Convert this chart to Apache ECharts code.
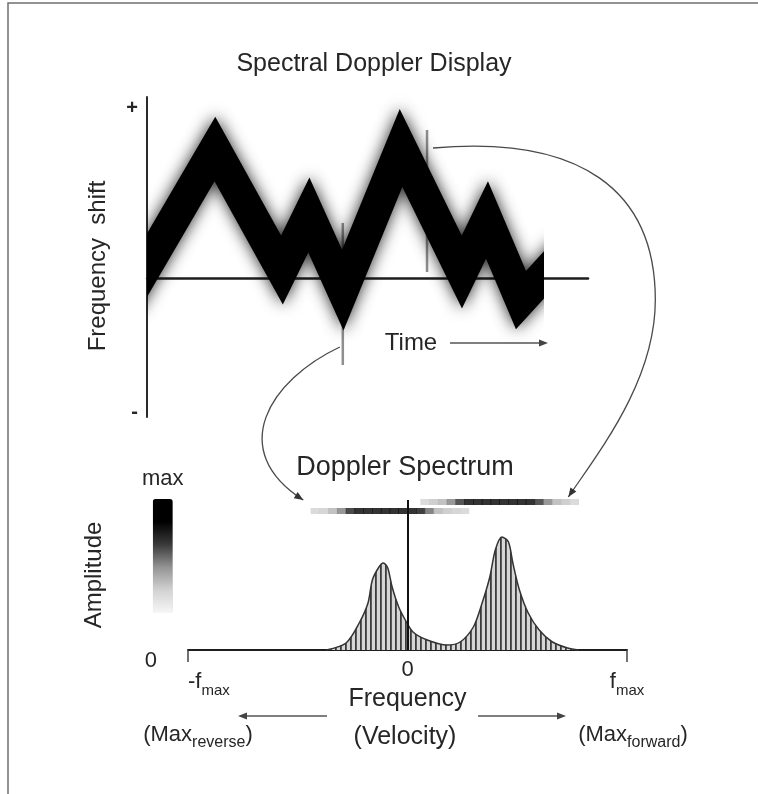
<!DOCTYPE html>
<html>
<head>
<meta charset="utf-8">
<script src="https://cdn.jsdelivr.net/npm/echarts@6/dist/echarts.min.js"></script>
<style>
  html, body { margin: 0; padding: 0; background: #fff; }
  #chart { width: 758px; height: 794px; }
</style>
</head>
<body>
<div id="chart"></div>
<script>
// Spectral Doppler display: the shift band over time (top) and one spectrum slice (bottom)
const FONT = "'Liberation Sans', Arial, Helvetica, sans-serif";
const INK = '#262626';

// Top panel: centre line of the Doppler shift band (time 0..100, shift in arbitrary units)
const waveTime  = [-5, 15.4, 30.6, 36.7, 44.4, 57.6, 71.4, 77.1, 84.8, 95];
const waveShift = [-25, 129, 8, 63, -12, 130, 6, 58, -22, 27];
const waveEnd = 89.8;   // the recording stops here

// Sample gates: time, upper and lower shift
const gateTime   = [44.4, 63.5];
const gateTop    = [55, 148];
const gateBottom = [-87, 6];

// Bottom panel: spectrum amplitude against frequency (-100 = -fmax, 100 = fmax)
const specFreq = [-37, -28, -22, -18, -16, -13, -11, -9, -7, -4, -1, 2.5, 9, 18, 24, 30, 34, 37.5, 40, 43, 46, 48, 51, 55, 60, 66, 73, 78];
const specAmp  = [0, 7, 27, 47, 70, 83, 87, 82, 63, 43, 30, 18, 10, 5, 8, 23, 47, 73, 100, 113, 108, 87, 60, 37, 20, 8, 2, 0];

// Grey-scale strips: spectrum brightness (0..1) at two sample gates
const stripReverseFreq = [-42, -38, -34, -30, -26, -22, -18, -14, -10, -6, -2, 2, 6, 10, 14, 18, 22, 26];
const stripReverseAmp  = [0.2, 0.22, 0.3, 0.45, 0.7, 0.9, 1, 1, 1, 1, 0.95, 0.9, 0.75, 0.5, 0.3, 0.25, 0.22, 0.2];
const stripForwardFreq = [8, 12, 16, 20, 24, 28, 32, 36, 40, 44, 48, 52, 56, 60, 64, 68, 72, 76];
const stripForwardAmp  = [0.2, 0.25, 0.3, 0.45, 0.65, 0.85, 0.95, 1, 1, 1, 1, 0.95, 0.85, 0.65, 0.45, 0.3, 0.25, 0.2];
const stripReverseLevel = 139;
const stripForwardLevel = 148;

// Axis marks
const shiftTicks = [170, -134];
const freqTicks  = [-100, 0, 100];

const zip = (a, b) => a.map((v, i) => [v, b[i]]);

// Band layout: the line clip box grows by half the stroke width, so the band's
// grid is inset by that much and its time axis widened to keep the same scale
const TOP_LEFT = 147, TOP_WIDTH = 441, BAND_W = 32;
const pxPerUnit = TOP_WIDTH / 100;
const inset = BAND_W / 2;
const bandMin = inset / pxPerUnit;
const bandMax = waveEnd - inset / pxPerUnit;

// vertical hatching for the spectrum area
const hatch = document.createElement('canvas');
hatch.width = 5; hatch.height = 8;
{
  const c = hatch.getContext('2d');
  c.fillStyle = '#d6d6d6';
  c.fillRect(0, 0, 5, 8);
  c.fillStyle = '#3c3c3c';
  c.fillRect(0, 0, 1.8, 8);
}

const chart = echarts.init(document.getElementById('chart'), null, { renderer: 'canvas' });

const noAxis = { show: false };
const plainLine = (color, width) => ({ show: true, onZero: true, lineStyle: { color, width } });

chart.setOption({
  animation: false,
  backgroundColor: '#fff',
  textStyle: { fontFamily: FONT },
  title: [
    { text: 'Spectral Doppler Display', left: 374, top: 52, textAlign: 'center', padding: 0,
      textStyle: { fontSize: 25, fontWeight: 'normal', color: INK, fontFamily: FONT } },
    { text: 'Doppler Spectrum', left: 405, top: 454, textAlign: 'center', padding: 0,
      textStyle: { fontSize: 27, fontWeight: 'normal', color: INK, fontFamily: FONT } }
  ],
  grid: [
    { left: TOP_LEFT, top: 97, width: TOP_WIDTH, height: 320, outerBoundsMode: 'none' },
    { left: TOP_LEFT + inset, top: 97, width: (bandMax - bandMin) * pxPerUnit, height: 320, outerBoundsMode: 'none' },
    { left: 188, top: 500, width: 439, height: 150, outerBoundsMode: 'none' }
  ],
  xAxis: [
    { gridIndex: 0, type: 'value', min: 0, max: 100,
      axisLine: plainLine('#1e1e1e', 2.5), axisTick: noAxis, axisLabel: noAxis, splitLine: noAxis },
    { gridIndex: 1, type: 'value', min: bandMin, max: bandMax, show: false },
    { gridIndex: 2, type: 'value', min: -100, max: 100,
      axisLine: plainLine('#1e1e1e', 2),
      axisTick: { show: true, customValues: [-100, 100], length: 12, lineStyle: { color: '#444', width: 1.5 } },
      axisLabel: {
        show: true, customValues: freqTicks, margin: 9, fontSize: 22, color: INK, fontFamily: FONT,
        verticalAlign: 'top', alignMinLabel: 'left',
        formatter: v => v === 0 ? '0' : (v < 0 ? '{f|-f}{s|max}' : '{f|f}{s|max}'),
        rich: {
          f: { fontSize: 22, color: INK, fontFamily: FONT, padding: [12, 0, 5, 0], verticalAlign: 'bottom' },
          s: { fontSize: 15, color: INK, fontFamily: FONT, verticalAlign: 'bottom' }
        }
      },
      splitLine: noAxis,
      name: 'Frequency', nameLocation: 'middle', nameGap: 37, nameMoveOverlap: false,
      nameTextStyle: { fontSize: 25, color: INK, fontFamily: FONT } }
  ],
  yAxis: [
    { gridIndex: 0, type: 'value', min: -139, max: 181,
      axisLine: plainLine('#2a2a2a', 2), axisTick: noAxis, splitLine: noAxis,
      axisLabel: { show: true, customValues: shiftTicks, margin: 9, fontSize: 20, fontWeight: 'bold',
        color: INK, fontFamily: FONT, formatter: v => v > 0 ? '+' : '-' },
      name: 'Frequency  shift', nameLocation: 'middle', nameGap: 37, nameMoveOverlap: false,
      nameTextStyle: { fontSize: 24, color: INK, fontFamily: FONT, padding: [0, 18, 0, 0] } },
    { gridIndex: 1, type: 'value', min: -139, max: 181, show: false },
    { gridIndex: 2, type: 'value', min: 0, max: 150,
      axisLine: { show: false }, axisTick: noAxis, splitLine: noAxis,
      axisLabel: { show: true, customValues: [0], margin: 31, fontSize: 22, color: INK,
        fontFamily: FONT, verticalAlign: 'top', formatter: () => '0' },
      name: 'Amplitude', nameLocation: 'middle', nameGap: 82, nameMoveOverlap: false,
      nameTextStyle: { fontSize: 24, color: INK, fontFamily: FONT } }
  ],
  visualMap: {
    type: 'continuous', min: 0, max: 1, dimension: 2, seriesIndex: [4, 5],
    calculable: false, hoverLink: false, orient: 'vertical',
    left: 142, top: 468, padding: 0, itemWidth: 20, itemHeight: 114,
    text: ['max', ''], textGap: 9,
    textStyle: { fontSize: 22, color: INK, fontFamily: FONT },
    inRange: { color: ['#f7f7f7', '#d2d2d2', '#949494', '#3a3a3a', '#000000', '#000000'] }
  },
  series: [
    // sample gates
    ...gateTime.map((t, i) => ({
      type: 'line', xAxisIndex: 0, yAxisIndex: 0, silent: true, symbol: 'none', z: 2,
      lineStyle: { color: '#8f8f8f', width: 2.5 },
      data: [[t, gateTop[i]], [t, gateBottom[i]]]
    })),
    // spectral band
    {
      type: 'line', xAxisIndex: 1, yAxisIndex: 1, silent: true, symbol: 'none', z: 3, clip: true,
      lineStyle: { color: '#000', width: BAND_W, join: 'miter', miterLimit: 10, cap: 'butt',
        shadowBlur: 16, shadowColor: 'rgba(0,0,0,0.85)' },
      data: zip(waveTime, waveShift)
    },
    // spectrum curve
    {
      type: 'line', xAxisIndex: 2, yAxisIndex: 2, silent: true, symbol: 'none', z: 3,
      smooth: 0.3,
      lineStyle: { color: '#333', width: 1.5 },
      areaStyle: { color: { image: hatch, repeat: 'repeat' }, opacity: 1 },
      data: zip(specFreq, specAmp),
      markLine: {
        silent: true, symbol: 'none', label: { show: false },
        lineStyle: { color: '#111', width: 2, type: 'solid' },
        data: [{ xAxis: 0 }]
      }
    },
    // grey-scale strips
    {
      type: 'scatter', xAxisIndex: 2, yAxisIndex: 2, silent: true, symbol: 'rect', z: 4,
      symbolSize: [9.4, 6],
      data: stripReverseFreq.map((f, i) => [f, stripReverseLevel, stripReverseAmp[i]])
    },
    {
      type: 'scatter', xAxisIndex: 2, yAxisIndex: 2, silent: true, symbol: 'rect', z: 4,
      symbolSize: [9.4, 6],
      data: stripForwardFreq.map((f, i) => [f, stripForwardLevel, stripForwardAmp[i]])
    }
  ]
});

// Annotations: connectors from the gates to their strips, direction arrows and captions
const toUpper = p => chart.convertToPixel({ xAxisIndex: 0, yAxisIndex: 0 }, p);
const toLower = p => chart.convertToPixel({ xAxisIndex: 2, yAxisIndex: 2 }, p);
const add = (a, d) => [a[0] + d[0], a[1] + d[1]];

function head(tip, from, L = 9, W = 3.6, fill = '#333') {
  const dx = tip[0] - from[0], dy = tip[1] - from[1];
  const n = Math.hypot(dx, dy), ux = dx / n, uy = dy / n;
  const bx = tip[0] - ux * L, by = tip[1] - uy * L;
  return { type: 'polygon', silent: true,
    shape: { points: [tip, [bx - uy * W, by + ux * W], [bx + uy * W, by - ux * W]] },
    style: { fill } };
}
function curve(p0, c1, c2, p1) {
  return { type: 'bezierCurve', silent: true,
    shape: { x1: p0[0], y1: p0[1], cpx1: c1[0], cpy1: c1[1], cpx2: c2[0], cpy2: c2[1], x2: p1[0], y2: p1[1] },
    style: { stroke: '#4a4a4a', lineWidth: 1.3, fill: 'none' } };
}
function arrowLine(from, tip) {
  const back = [tip[0] - Math.sign(tip[0] - from[0]) * 7, tip[1]];
  return [
    { type: 'line', silent: true, shape: { x1: from[0], y1: from[1], x2: back[0], y2: back[1] },
      style: { stroke: '#555', lineWidth: 1.5 } },
    head(tip, from, 9, 3.4, '#444')
  ];
}
function caption(x, y, text, size, rich) {
  return { type: 'text', silent: true, x, y,
    style: { text, fontSize: size, fontFamily: FONT, fill: INK, align: 'center', verticalAlign: 'middle', rich } };
}

// forward gate -> forward strip
const fStart = add(toUpper([gateTime[1], 130]), [6, 0]);
const fEnd = add(toLower([stripForwardFreq[stripForwardFreq.length - 1], stripForwardLevel]), [-6, -5]);
const fMid = add(fEnd, [87, -197]);
const fC2 = add(fEnd, [32, -47]);
// reverse gate -> reverse strip
const rStart = add(toUpper([gateTime[0], -69]), [-3, 0]);
const rEnd = add(toLower([stripReverseFreq[0], stripReverseLevel]), [-12, -11]);
const rC2 = add(rEnd, [-78, -50]);

const subRich = {
  m: { fontSize: 22, fontFamily: FONT, fill: INK, padding: [0, 0, 5, 0], verticalAlign: 'bottom' },
  s: { fontSize: 16, fontFamily: FONT, fill: INK, verticalAlign: 'bottom' }
};

chart.setOption({
  graphic: [
    { type: 'polyline', silent: true, shape: { points: [[8, 794], [8, 3], [758, 3]] },
      style: { stroke: '#6f6f6f', lineWidth: 1.5, fill: 'none' } },
    curve(fStart, add(fStart, [147, -13]), add(fMid, [0, -110]), fMid),
    curve(fMid, add(fMid, [0, 80]), fC2, fEnd),
    head(fEnd, fC2),
    curve(rStart, add(rStart, [-70, 33]), rC2, rEnd),
    head(rEnd, rC2),
    caption(411, 343, 'Time', 24),
    ...arrowLine([450, 343], [548, 343]),
    ...arrowLine([327, 716], [238, 716]),
    ...arrowLine([478, 716], [566, 716]),
    caption(405, 737, '(Velocity)', 25),
    caption(198, 737, '{m|(Max}{s|reverse}{m|)}', 22, subRich),
    caption(633, 737, '{m|(Max}{s|forward}{m|)}', 22, subRich)
  ]
});
</script>
</body>
</html>
